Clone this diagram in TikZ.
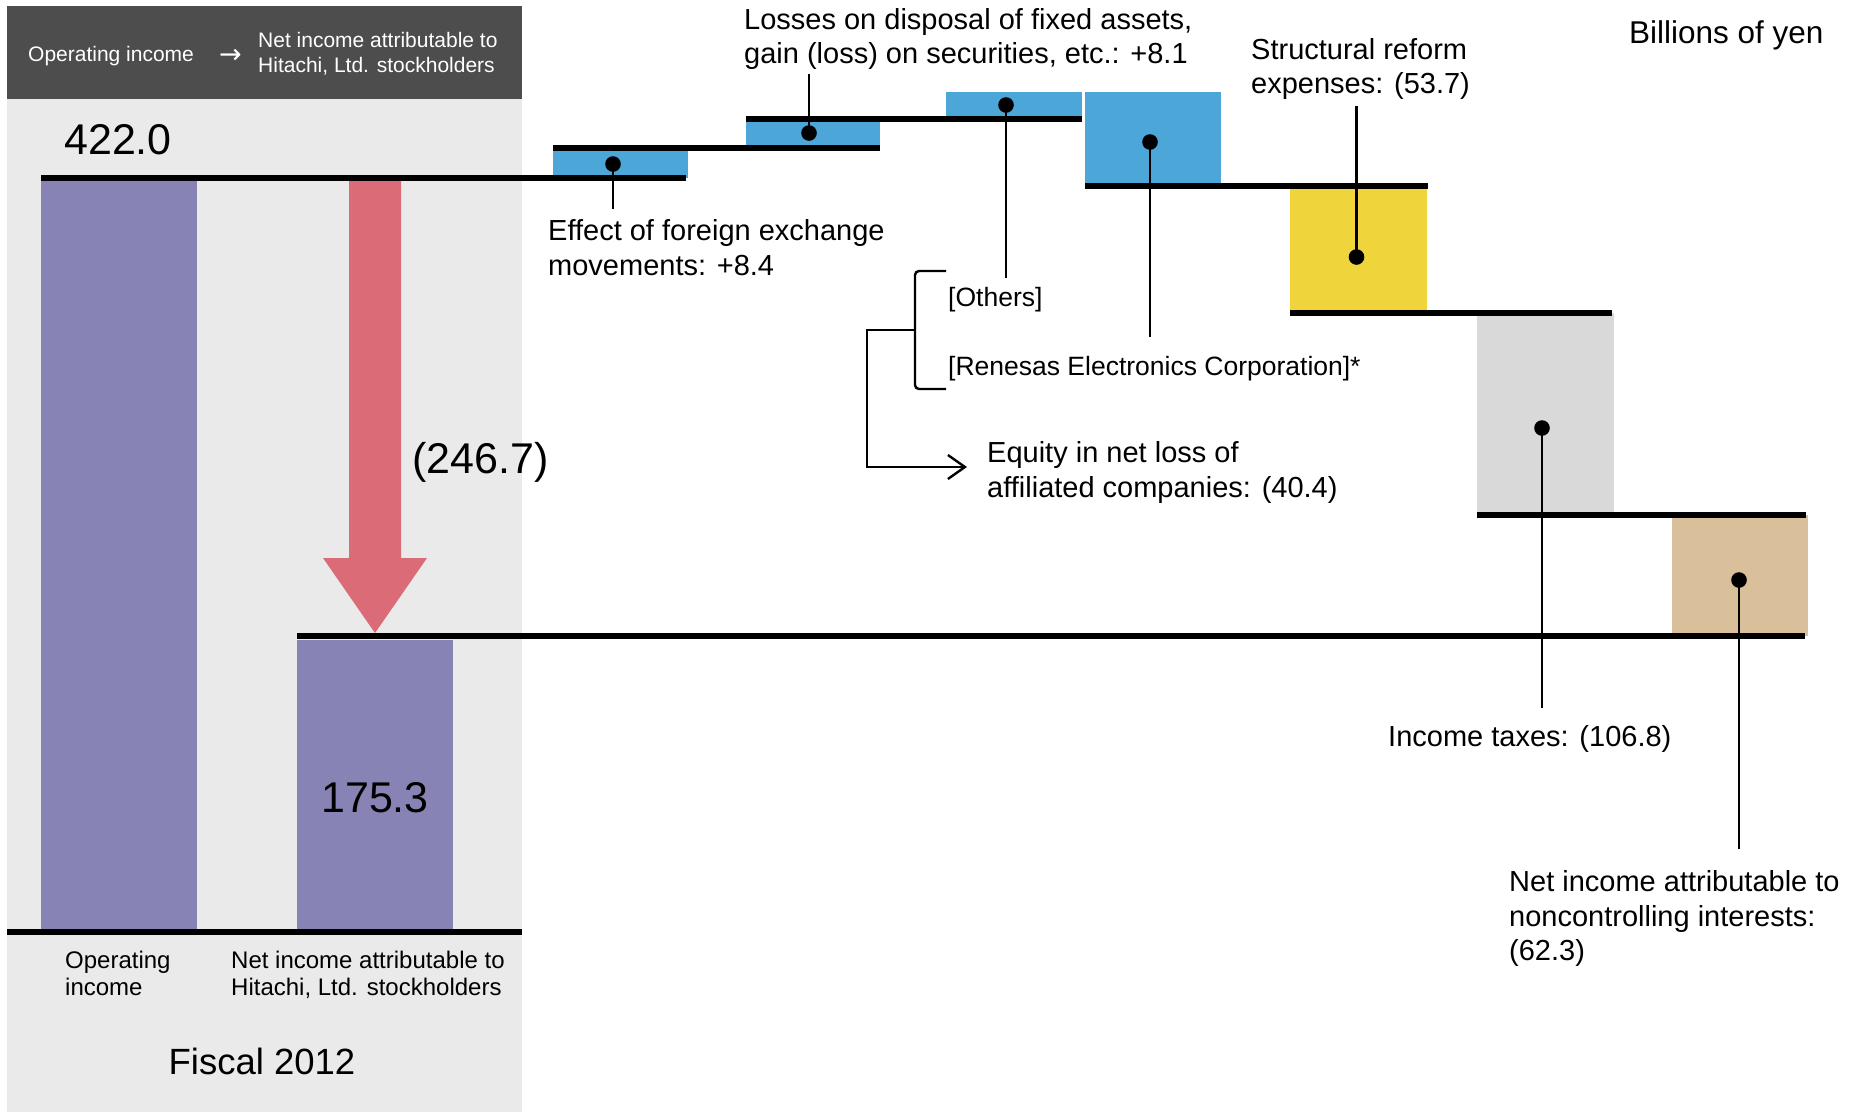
\documentclass[tikz,border=0pt]{standalone}
\usepackage{fontspec}
\setmainfont{Liberation Sans}
\newfontfamily\arrowfont{DejaVu Sans}
\usetikzlibrary{arrows.meta}
\definecolor{panelc}{RGB}{234,234,234}
\definecolor{headc}{RGB}{77,77,77}
\definecolor{purplec}{RGB}{135,131,180}
\definecolor{redc}{RGB}{219,107,118}
\definecolor{bluec}{RGB}{77,166,216}
\definecolor{yellowc}{RGB}{240,212,60}
\definecolor{grayc}{RGB}{217,217,217}
\definecolor{tanc}{RGB}{217,192,154}
\begin{document}
\begin{tikzpicture}[x=1pt,y=-1pt,
  lbl/.style={anchor=base west, inner sep=0pt, font=\fontsize{29}{35}\selectfont},
  smalllbl/.style={anchor=base west, inner sep=0pt, font=\fontsize{26.5}{32}\selectfont},
  hdr/.style={anchor=base west, inner sep=0pt, text=white, font=\fontsize{21}{25}\selectfont},
  botlbl/.style={anchor=base west, inner sep=0pt, font=\fontsize{24}{28}\selectfont},
  bignum/.style={anchor=base west, inner sep=0pt, font=\fontsize{43}{50}\selectfont},
  level/.style={line width=6pt},
  leader/.style={line width=2.6pt},
  brk/.style={line width=2.4pt},
  dot/.style={circle, fill=black, inner sep=0pt, minimum size=15.6pt}]
\useasboundingbox (0,0) rectangle (1858,1112);
\fill[white] (0,0) rectangle (1858,1112);
% left panel
\fill[panelc] (7,6) rectangle (522,1112);
\fill[headc] (7,6) rectangle (522,99);
% bars
\fill[purplec] (41,181) rectangle (197,929);
\fill[purplec] (297,640) rectangle (453,929);
\fill[redc] (349,181) -- (401,181) -- (401,558) -- (427,558) -- (375,633) -- (323,558) -- (349,558) -- cycle;
\fill[bluec] (553,151) rectangle (688,178);
\fill[bluec] (746,121) rectangle (880,148);
\fill[bluec] (946,92) rectangle (1082,118);
\fill[bluec] (1085,92) rectangle (1221,186);
\fill[yellowc] (1290,186) rectangle (1427,313);
\fill[grayc] (1477,313) rectangle (1614,514);
\fill[tanc] (1672,515) rectangle (1808,636);
% level lines
\draw[level] (41,178) -- (686,178);
\draw[level] (553,148) -- (880,148);
\draw[level] (746,118.5) -- (1082,118.5);
\draw[level] (1085,186) -- (1428,186);
\draw[level] (1290,313) -- (1612,313);
\draw[level] (1477,514.5) -- (1806,514.5);
\draw[level] (297,636) -- (1805,636);
\draw[level] (7,932) -- (522,932);
% dots
\node[dot] (d1) at (613,164) {};
\node[dot] (d2) at (809,133) {};
\node[dot] (d3) at (1006,105) {};
\node[dot] (d4) at (1150,142) {};
\node[dot] (d5) at (1356.5,257) {};
\node[dot] (d6) at (1542,428) {};
\node[dot] (d7) at (1739,580) {};
\coordinate (e1) at (613,209);
\coordinate (e2) at (809,74);
\coordinate (e3) at (1006,278);
\coordinate (e4) at (1150,337);
\coordinate (e5) at (1356.5,106);
\coordinate (e6) at (1542,708);
\coordinate (e7) at (1739,849);
\draw[leader] (d1.center) -- (e1);
\draw[leader] (d2.center) -- (e2);
\draw[leader] (d3.center) -- (e3);
\draw[leader] (d4.center) -- (e4);
\draw[leader] (d5.center) -- (e5);
\draw[leader] (d6.center) -- (e6);
\draw[leader] (d7.center) -- (e7);
% bracket
\coordinate (bt) at (946,271);
\coordinate (bb) at (946,389);
\coordinate (bm) at (915,330);
\coordinate (ba) at (967,467);
\draw[brk, rounded corners=4pt] (bt) -- (915,271) -- (915,389) -- (bb);
\draw[brk, -{Straight Barb[length=17pt,width=24pt,line width=2.4pt]}] (bm) -- (867,330) -- (867,467) -- (ba);
% header texts
\node[hdr] (h1) at (28,61) {Operating income};
\node[anchor=base west, inner sep=0pt, text=white, font=\arrowfont\fontsize{27}{30}\selectfont] (h2) at (219,63) {→};
\node[hdr] (h3) at (258,47) {Net income attributable to};
\node[hdr] (h4) at (258,72) {Hitachi, Ltd. stockholders};
% numbers
\node[bignum] (n1) at (64,154) {422.0};
\node[bignum] (n2) at (321,812) {175.3};
\node[bignum] (n3) at (412,473) {(246.7)};
% bottom labels
\node[botlbl] (b1) at (65,968) {Operating};
\node[botlbl] (b2) at (65,995) {income};
\node[botlbl] (b3) at (231,968) {Net income attributable to};
\node[botlbl] (b4) at (231,995) {Hitachi, Ltd. stockholders};
\node[anchor=base, inner sep=0pt, font=\fontsize{36.5}{42}\selectfont] (fy) at (262,1074) {Fiscal 2012};
% right labels
\node[lbl] (t1) at (744,29) {Losses on disposal of fixed assets,};
\node[lbl] (t2) at (744,63) {gain (loss) on securities, etc.: +8.1};
\node[lbl] (t3) at (548,240) {Effect of foreign exchange};
\node[lbl] (t4) at (548,275) {movements: +8.4};
\node[lbl] (t5) at (1251,59) {Structural reform};
\node[lbl] (t6) at (1251,93) {expenses: (53.7)};
\node[anchor=base west, inner sep=0pt, font=\fontsize{31.5}{36}\selectfont] (t7) at (1629,43) {Billions of yen};
\node[smalllbl] (t8) at (948,306) {[Others]};
\node[smalllbl] (t9) at (948,375) {[Renesas Electronics Corporation]*};
\node[lbl] (t10) at (987,462) {Equity in net loss of};
\node[lbl] (t11) at (987,497) {affiliated companies: (40.4)};
\node[lbl] (t12) at (1388,746) {Income taxes: (106.8)};
\node[lbl] (t13) at (1509,891) {Net income attributable to};
\node[lbl] (t14) at (1509,926) {noncontrolling interests:};
\node[lbl] (t15) at (1509,960) {(62.3)};
\end{tikzpicture}
\end{document}
